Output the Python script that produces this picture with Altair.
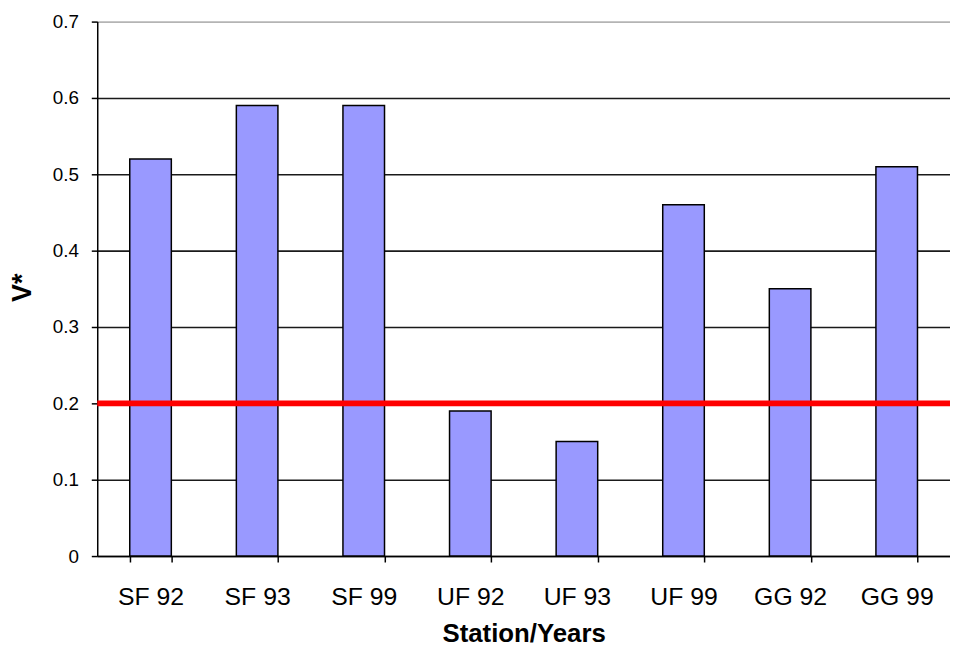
import altair as alt
import pandas as pd

categories = ["SF 92", "SF 93", "SF 99", "UF 92", "UF 93", "UF 99", "GG 92", "GG 99"]
values = [0.52, 0.59, 0.59, 0.19, 0.15, 0.46, 0.35, 0.51]
threshold = [0.2]
y_ticks = [0, 0.1, 0.2, 0.3, 0.4, 0.5, 0.6, 0.7]

df = pd.DataFrame({"cat": categories, "v": values})
df_thr = pd.DataFrame({"t": threshold})

FONT = "Liberation Sans"

x_enc = alt.X(
    "cat:N",
    sort=categories,
    scale=alt.Scale(paddingInner=0.61, paddingOuter=0.305),
    axis=alt.Axis(
        title="Station/Years",
        labelAngle=0,
        labelFontSize=25,
        labelFont=FONT,
        labelColor="#000000",
        labelPadding=23,
        tickBand="extent",
        tickSize=6,
        tickColor="#000000",
        tickWidth=1.5,
        domainColor="#000000",
        domainWidth=1.5,
        grid=False,
        titleFont=FONT,
        titleFontSize=26,
        titleFontWeight="bold",
        titleColor="#000000",
        titleBaseline="alphabetic",
        titleY=86,
    ),
)

y_scale = alt.Scale(domain=[0, 0.7], nice=False, zero=True)

bars = alt.Chart(df).mark_bar(
    fill="#9999ff", stroke="#000000", strokeWidth=1.5
).encode(
    x=x_enc,
    y=alt.Y(
        "v:Q",
        scale=y_scale,
        axis=alt.Axis(
            title="V*",
            values=y_ticks,
            format="~g",
            labelFontSize=19,
            labelFont=FONT,
            labelColor="#000000",
            labelPadding=13,
            tickSize=6,
            tickColor="#000000",
            tickWidth=1.5,
            domainColor="#000000",
            domainWidth=1.5,
            grid=True,
            gridColor={
                "condition": {"test": "datum.value >= 0.69", "value": "#b4b4b4"},
                "value": "#1a1a1a",
            },
            gridWidth=1.6,
            titleFont=FONT,
            titleFontSize=27,
            titleFontWeight="bold",
            titleColor="#000000",
            titleAngle=-90,
            titleBaseline="alphabetic",
            titleAlign="center",
            titleX=-67,
            titleY=268,
        ),
    ),
)

rule = alt.Chart(df_thr).mark_rule(color="#ff0000", strokeWidth=6).encode(
    y=alt.Y("t:Q", scale=y_scale)
)

chart = alt.layer(bars, rule).properties(
    width=860,
    height=539,
    autosize=alt.AutoSizeParams(type="none"),
    padding={"left": 90, "top": 11, "right": 0, "bottom": 88},
    background="#ffffff",
).configure_view(stroke=None)

chart.save("out.html", embed_options={"renderer": "svg", "actions": False})
